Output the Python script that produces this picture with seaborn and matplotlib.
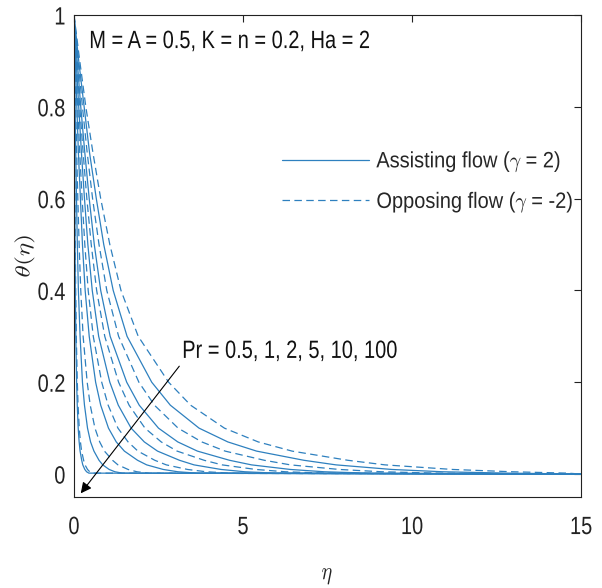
import matplotlib
matplotlib.use("Agg")
import numpy as np
import pandas as pd
import seaborn as sns
import matplotlib.pyplot as plt
import matplotlib.patheffects as pe
from matplotlib.transforms import Affine2D, Bbox
from matplotlib.lines import Line2D

# Temperature profiles theta(eta): eta position where each curve crosses each theta level
theta_levels = [1.0, 0.9, 0.8, 0.7, 0.6, 0.5, 0.4, 0.3, 0.2, 0.15, 0.1, 0.07,
                0.05, 0.03, 0.02, 0.01, 0.005, 0.002, 0.0]
pr_values = ["0.5", "1", "2", "5", "10", "100"]

eta_assisting_pr05 = [0, 0.14, 0.30, 0.46, 0.66, 0.88, 1.16, 1.57, 2.30, 2.85, 3.70, 4.55, 5.40, 6.80, 7.75, 9.40, 10.90, 12.80, 15]
eta_assisting_pr1 = [0, 0.095, 0.20, 0.32, 0.45, 0.60, 0.79, 1.07, 1.56, 1.93, 2.50, 3.07, 3.65, 4.60, 5.25, 6.40, 7.40, 8.70, 15]
eta_assisting_pr2 = [0, 0.065, 0.14, 0.22, 0.31, 0.41, 0.54, 0.73, 1.06, 1.31, 1.69, 2.08, 2.47, 3.12, 3.55, 4.35, 5.05, 5.95, 15]
eta_assisting_pr5 = [0, 0.04, 0.084, 0.13, 0.19, 0.25, 0.33, 0.45, 0.64, 0.79, 1.02, 1.25, 1.49, 1.88, 2.15, 2.64, 3.07, 3.63, 15]
eta_assisting_pr10 = [0, 0.016, 0.033, 0.052, 0.074, 0.099, 0.13, 0.18, 0.25, 0.31, 0.40, 0.49, 0.59, 0.74, 0.85, 1.04, 1.21, 1.43, 15]
eta_assisting_pr100 = [0, 0.005, 0.010, 0.016, 0.023, 0.030, 0.040, 0.054, 0.078, 0.096, 0.124, 0.152, 0.18, 0.228, 0.26, 0.32, 0.372, 0.44, 15]

eta_opposing_pr05 = [0, 0.17, 0.35, 0.56, 0.79, 1.06, 1.39, 1.90, 2.80, 3.45, 4.45, 5.45, 6.45, 8.10, 9.20, 11.20, 12.95, 14.6, 15]
eta_opposing_pr1 = [0, 0.12, 0.25, 0.39, 0.55, 0.74, 0.97, 1.32, 1.92, 2.38, 3.08, 3.78, 4.47, 5.63, 6.40, 7.85, 9.10, 10.70, 15]
eta_opposing_pr2 = [0, 0.08, 0.17, 0.27, 0.38, 0.51, 0.67, 0.91, 1.32, 1.63, 2.10, 2.58, 3.05, 3.85, 4.38, 5.38, 6.25, 7.37, 15]
eta_opposing_pr5 = [0, 0.05, 0.11, 0.17, 0.24, 0.32, 0.42, 0.57, 0.82, 1.01, 1.30, 1.60, 1.89, 2.39, 2.73, 3.36, 3.91, 4.62, 15]
eta_opposing_pr10 = [0, 0.024, 0.051, 0.08, 0.113, 0.152, 0.20, 0.27, 0.39, 0.48, 0.62, 0.76, 0.90, 1.14, 1.30, 1.60, 1.86, 2.20, 15]
eta_opposing_pr100 = [0, 0.006, 0.013, 0.02, 0.028, 0.038, 0.05, 0.068, 0.098, 0.12, 0.155, 0.19, 0.225, 0.285, 0.325, 0.40, 0.465, 0.55, 15]

eta_assisting = [eta_assisting_pr05, eta_assisting_pr1, eta_assisting_pr2,
                 eta_assisting_pr5, eta_assisting_pr10, eta_assisting_pr100]
eta_opposing = [eta_opposing_pr05, eta_opposing_pr1, eta_opposing_pr2,
                eta_opposing_pr5, eta_opposing_pr10, eta_opposing_pr100]

flow_labels = [r"Assisting flow ($\gamma$ = 2)", r"Opposing flow ($\gamma$ = -2)"]
param_text = "M = A = 0.5, K = n = 0.2, Ha = 2"
pr_text = "Pr = " + ", ".join(pr_values)
xticks = [0, 5, 10, 15]
xtick_labels = ["0", "5", "10", "15"]
yticks = [0, 0.2, 0.4, 0.6, 0.8, 1.0]
ytick_labels = ["0", "0.2", "0.4", "0.6", "0.8", "1"]

rows = []
for flow, etas in (("Assisting", eta_assisting), ("Opposing", eta_opposing)):
    for pr, eta_list in zip(pr_values, etas):
        for e, t in zip(eta_list, theta_levels):
            rows.append({"eta": e, "theta": t, "flow": flow, "curve": f"{flow}-{pr}"})
df = pd.DataFrame(rows)

sns.set_style("white")
plt.rcParams["font.family"] = ["Liberation Sans", "DejaVu Sans"]
plt.rcParams["mathtext.fontset"] = "cm"
plt.rcParams["axes.edgecolor"] = "#222222"
plt.rcParams["axes.linewidth"] = 0.8


class Squeeze(pe.AbstractPathEffect):
    """Draw text condensed horizontally (display space) about an anchor."""

    def __init__(self, sx=0.8, anchor=0.0):
        super().__init__()
        self.sx = sx
        self.anchor = anchor

    def draw_path(self, renderer, gc, tpath, affine, rgbFace=None):
        ext = tpath.get_extents(affine)
        cx = ext.x0 + self.anchor * (ext.x1 - ext.x0)
        t = affine + Affine2D().translate(-cx, 0).scale(self.sx, 1).translate(cx, 0)
        renderer.draw_path(gc, tpath, t, rgbFace)


def squeeze_text(txt, sx, anchor):
    """Condense a text horizontally and report the condensed extent."""
    txt.set_path_effects([Squeeze(sx, anchor)])
    orig = txt.get_window_extent

    def get_window_extent(renderer=None, dpi=None):
        bb = orig(renderer, dpi)
        cx = bb.x0 + anchor * bb.width
        return Bbox.from_extents(cx + (bb.x0 - cx) * sx, bb.y0,
                                 cx + (bb.x1 - cx) * sx, bb.y1)

    txt.get_window_extent = get_window_extent


line_color = "#2e80bf"
line_width = 0.9
dash_spec = (6, 3.5)
FS = 18
SQ = 0.8
FS_LEG = 16
SQ_LEG = 0.9

fig = plt.figure(figsize=(6.02, 5.88), dpi=100)
ax = fig.add_axes([74 / 602, 1 - 497 / 588, 507 / 602, 482 / 588])

sns.lineplot(data=df, x="eta", y="theta", units="curve", estimator=None,
             style="flow", dashes={"Assisting": "", "Opposing": dash_spec},
             color=line_color, linewidth=line_width, sort=False, legend=False, ax=ax)

ax.set_xlim(0, 15)
ax.set_ylim(-0.05, 1)
ax.set_xticks(xticks)
ax.set_xticklabels(xtick_labels)
ax.set_yticks(yticks)
ax.set_yticklabels(ytick_labels)
ax.tick_params(direction="in", length=5, width=0.8, top=True, right=True,
               labelsize=FS, colors="#222222")
ax.tick_params(axis="x", pad=13)
ax.tick_params(axis="y", pad=6)
for side in ax.spines.values():
    side.set_visible(True)
    side.set_color("#222222")

ax.set_xlabel(r"$\eta$", fontsize=FS, labelpad=17, color="#222222")
ax.set_ylabel(r"$\theta(\eta)$", fontsize=FS, labelpad=-1, color="#222222")

t1 = ax.text(0.44, 0.928, param_text, fontsize=FS, ha="left", va="baseline", color="#111111")

ann = ax.annotate(pr_text, xy=(0.2, -0.042), xytext=(3.19, 0.253),
                  fontsize=FS, ha="left", va="baseline", color="#111111",
                  arrowprops=dict(arrowstyle="-|>", color="black", lw=0.8,
                                  mutation_scale=16, shrinkA=0, shrinkB=0,
                                  relpos=(0.0, 0.0)))

handles = [Line2D([], [], color=line_color, lw=line_width, ls="-"),
           Line2D([], [], color=line_color, lw=line_width, dashes=dash_spec)]
leg = ax.legend(handles, flow_labels, loc="upper left", bbox_to_anchor=(0.41, 0.721),
                frameon=False, fontsize=FS_LEG, handlelength=3.9, handletextpad=0.35,
                labelspacing=0.7, borderpad=0, borderaxespad=0)

for lab in ax.get_xticklabels():
    squeeze_text(lab, SQ, 0.5)
for lab in ax.get_yticklabels():
    squeeze_text(lab, SQ, 1.0)
squeeze_text(ax.xaxis.label, SQ, 0.5)
squeeze_text(ax.yaxis.label, SQ, 0.5)
squeeze_text(t1, SQ, 0.0)
squeeze_text(ann, SQ, 0.0)
for txt in leg.get_texts():
    squeeze_text(txt, SQ_LEG, 0.0)

fig.savefig("out.png", dpi=100, facecolor="white")
